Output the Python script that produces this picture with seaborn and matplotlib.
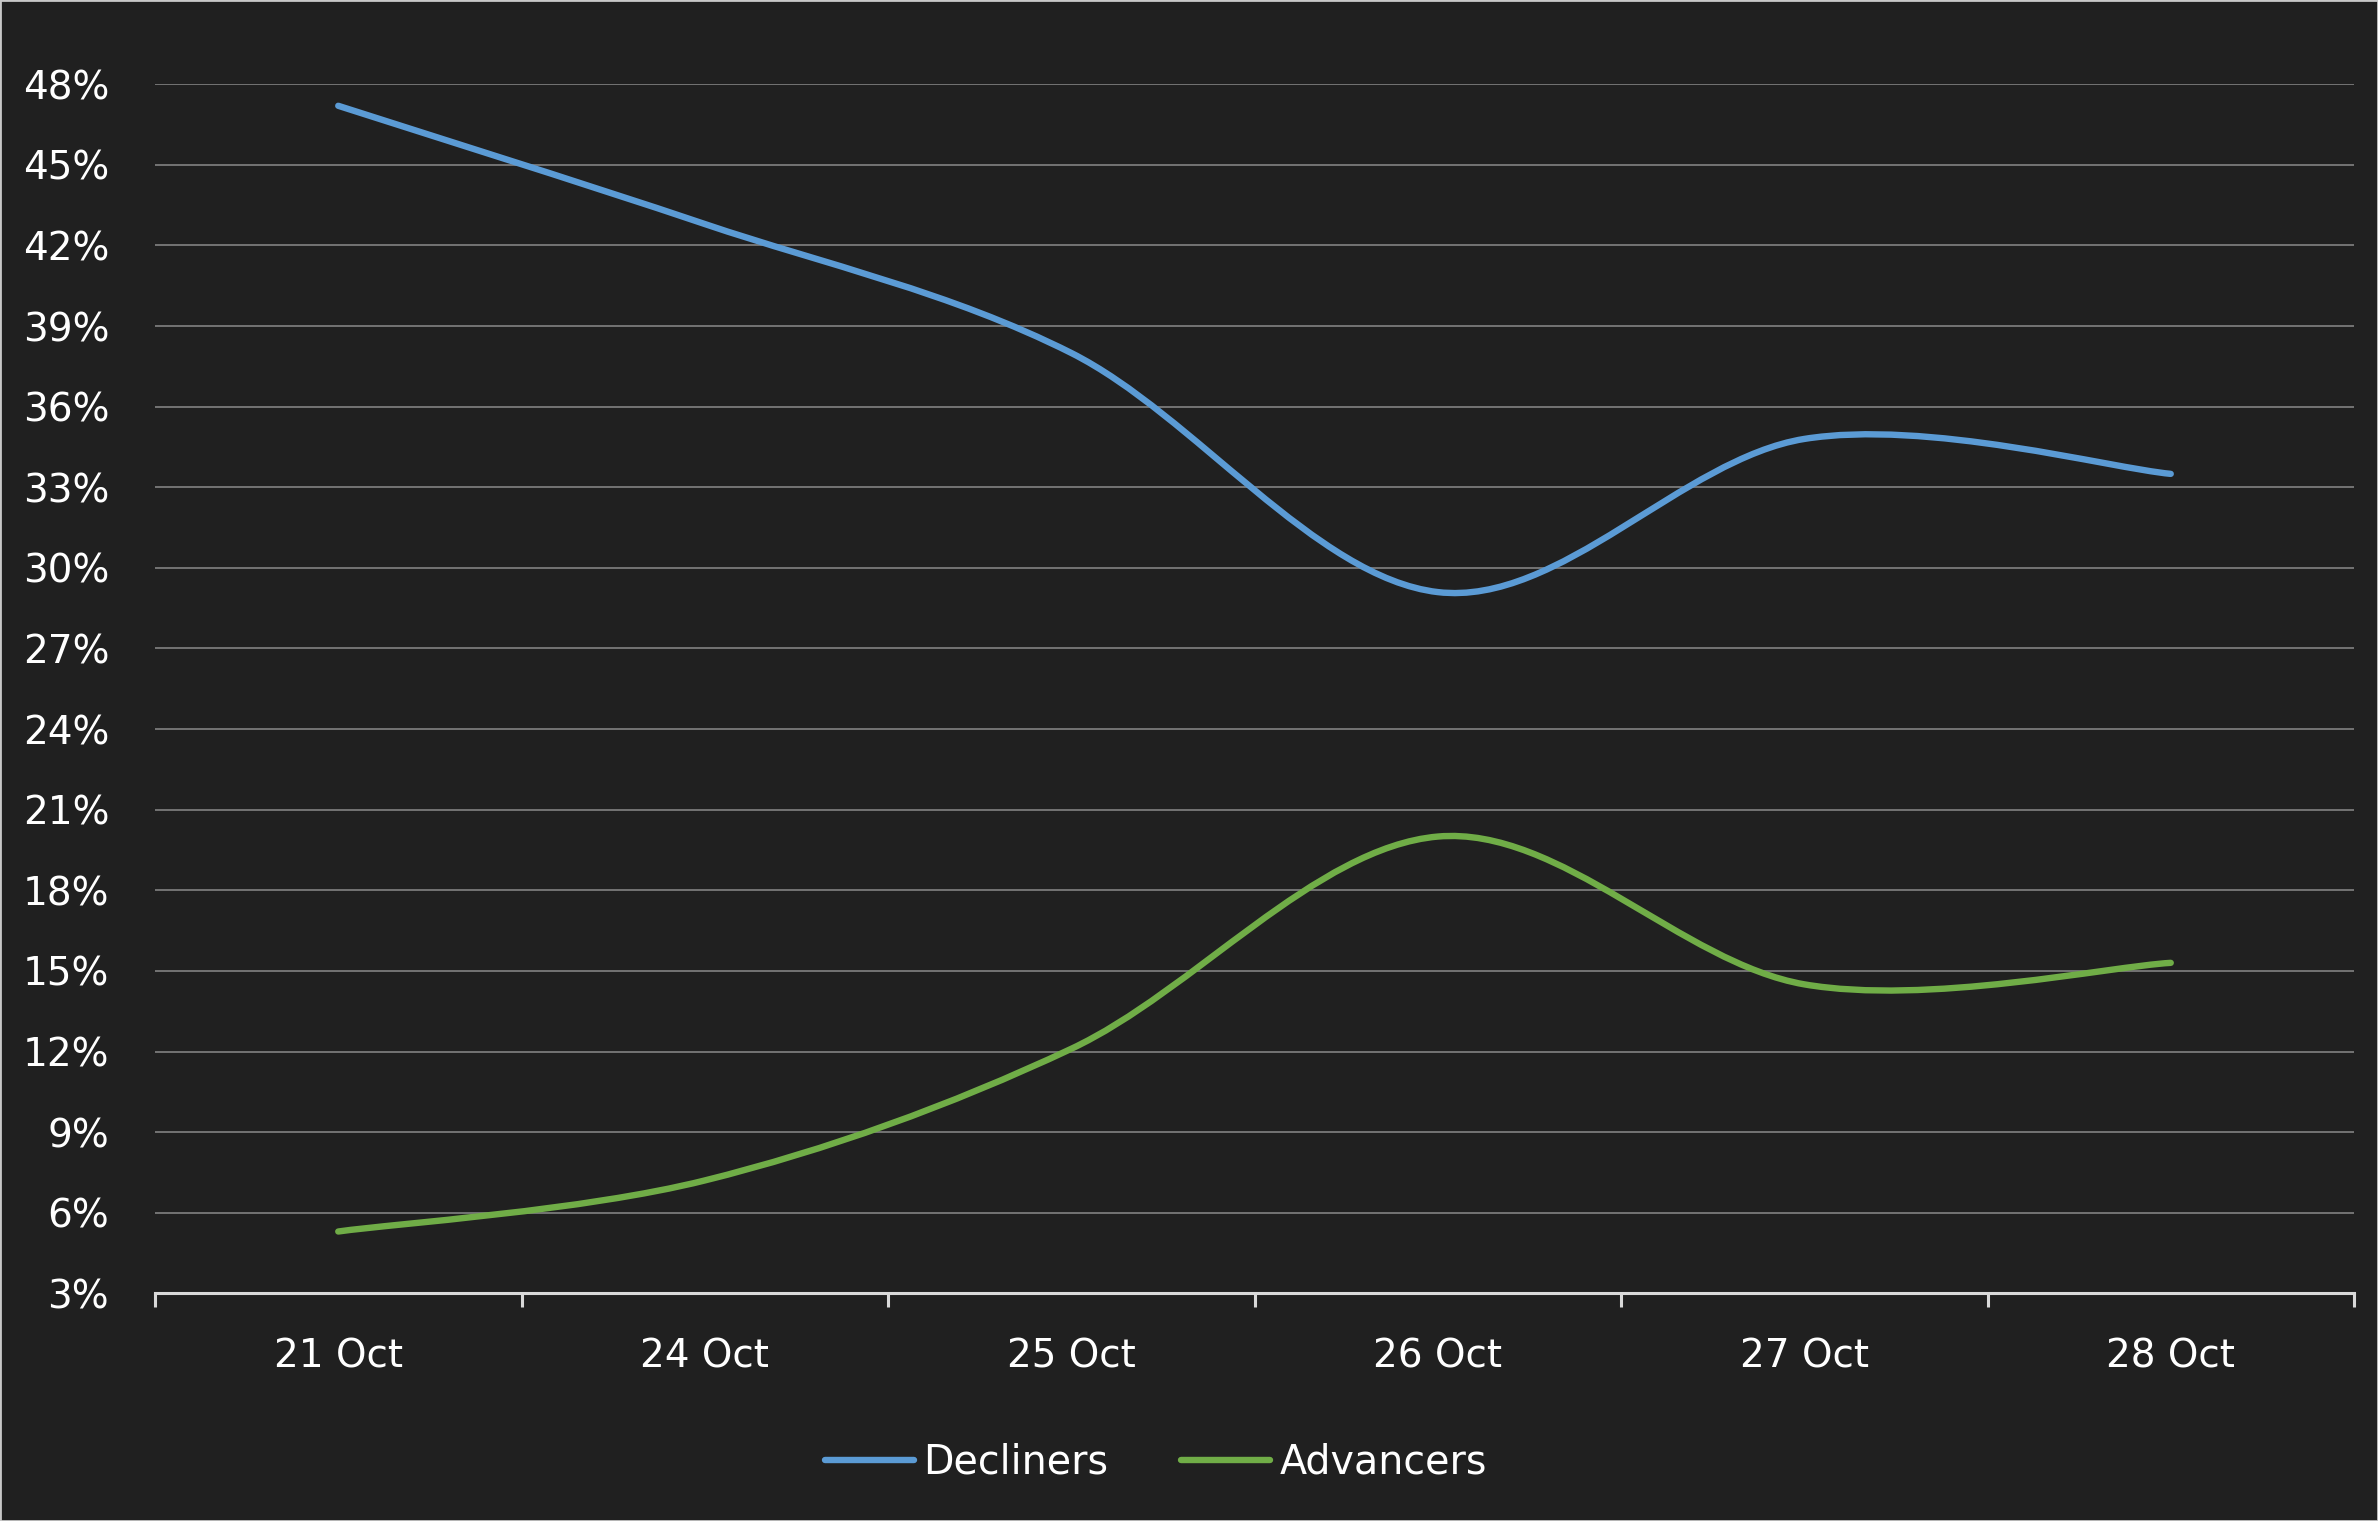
import numpy as np
import pandas as pd
import matplotlib
matplotlib.use("Agg")
import matplotlib.pyplot as plt
import seaborn as sns
from matplotlib.path import Path
from matplotlib.patches import PathPatch, Rectangle
from matplotlib.ticker import FuncFormatter

# ---------------- data ----------------
dates = ["21 Oct", "24 Oct", "25 Oct", "26 Oct", "27 Oct", "28 Oct"]
decliners = [47.2, 42.8, 38.0, 29.1, 34.8, 33.5]
advancers = [5.3, 7.2, 12.1, 20.0, 14.5, 15.3]
series_names = ["Decliners", "Advancers"]
y_ticks = [3, 6, 9, 12, 15, 18, 21, 24, 27, 30, 33, 36, 39, 42, 45, 48]

# ---------------- style ----------------
BG = "#202020"
TXT = "#FFFFFF"
GRID = "#8A8A8A"
AXIS = "#D9D9D9"
palette = {"Decliners": "#5B9BD5", "Advancers": "#70AD47"}
LW = 4.6

sns.set_theme(style="dark")
plt.rcParams["font.family"] = ["DejaVu Sans"]

df = pd.DataFrame({
    "Date": dates * 2,
    "Value": decliners + advancers,
    "Series": [series_names[0]] * len(dates) + [series_names[1]] * len(dates),
})

W, H = 2378, 1521
fig = plt.figure(figsize=(W / 100, H / 100), dpi=100, facecolor=BG)
left, right = 155 / W, 2354 / W
top, bottom = 1 - 84.3 / H, 1 - 1293.3 / H
ax = fig.add_axes([left, bottom, right - left, top - bottom])
ax.set_facecolor(BG)

sns.lineplot(data=df, x="Date", y="Value", hue="Series", palette=palette,
             sort=False, linewidth=LW, ax=ax, legend=True)

sns.move_legend(ax, loc="center", bbox_to_anchor=(1156 / W, 1 - 1463 / H),
                bbox_transform=fig.transFigure, ncol=2, frameon=False,
                title=None, fontsize=28.5, handlelength=2.25, handletextpad=0.22,
                columnspacing=1.85, labelcolor=TXT)
leg = ax.get_legend()
for h in leg.legend_handles:
    h.set_linewidth(LW)
    h.set_solid_capstyle("round")

# smooth (Excel-style) rendering of each seaborn line through its own data points
for line in list(ax.lines):
    xy = line.get_xydata()
    if len(xy) < 2:
        continue
    color = line.get_color()
    pts = np.asarray(xy, dtype=float)
    n = len(pts)
    verts = [pts[0]]
    codes = [Path.MOVETO]
    for i in range(n - 1):
        p0 = pts[i - 1] if i > 0 else pts[i]
        p1 = pts[i]
        p2 = pts[i + 1]
        p3 = pts[i + 2] if i + 2 < n else pts[i + 1]
        c1 = p1 + (p2 - p0) / 6.0
        c2 = p2 - (p3 - p1) / 6.0
        verts += [c1, c2, p2]
        codes += [Path.CURVE4] * 3
    patch = PathPatch(Path(verts, codes), facecolor="none", edgecolor=color,
                      linewidth=LW, capstyle="round", joinstyle="round",
                      transform=ax.transData, clip_on=False, zorder=3)
    ax.add_patch(patch)
    line.set_visible(False)

# axes
ax.set_xlim(-0.5, len(dates) - 0.5)
ax.set_ylim(min(y_ticks), max(y_ticks))
ax.set_yticks(y_ticks)
ax.yaxis.set_major_formatter(FuncFormatter(lambda v, p: f"{v:.0f}%"))
ax.set_xlabel("")
ax.set_ylabel("")

ax.grid(False)
ax.yaxis.grid(True, color=GRID, linewidth=1.1)
ax.set_axisbelow(True)

for s in ["left", "right", "top"]:
    ax.spines[s].set_visible(False)
ax.spines["bottom"].set_visible(True)
ax.spines["bottom"].set_color(AXIS)
ax.spines["bottom"].set_linewidth(2.2)

ax.set_xticks(np.arange(-0.5, len(dates), 1.0), minor=True)
ax.tick_params(axis="x", which="major", length=0, pad=32, labelsize=28, labelcolor=TXT)
ax.tick_params(axis="x", which="minor", length=10, width=2.2, color=AXIS, direction="out", bottom=True)
ax.tick_params(axis="y", which="major", length=0, pad=33, labelsize=28, labelcolor=TXT)

# figure border
fig.patches.append(Rectangle((0, 0), 1, 1, transform=fig.transFigure, fill=False,
                             edgecolor="#C8C8C8", linewidth=2.0))

fig.savefig("out.png", dpi=100, facecolor=BG)
